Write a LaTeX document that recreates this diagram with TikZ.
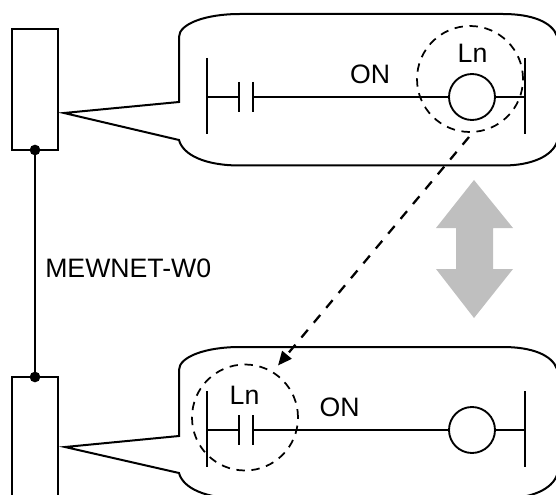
\documentclass[tikz,border=0pt]{standalone}
\usepackage{fontspec}
\setmainfont{Liberation Sans}
\usetikzlibrary{arrows.meta}
\tikzset{
  unitbox/.style={draw,line width=1.4pt,minimum width=34.5pt,inner sep=0pt,outer sep=0pt,anchor=north west},
  joint/.style={circle,fill=black,inner sep=0pt,outer sep=0pt,minimum size=8pt},
  wire/.style={line width=1.5pt},
  bubble/.style={line width=1.5pt,line join=miter},
  coil/.style={circle,draw,line width=1.4pt,inner sep=0pt,minimum size=34.5pt},
  zone/.style={circle,draw,dash pattern=on 6.3pt off 5pt,line width=1.3pt,inner sep=0pt,minimum size=79.5pt},
  link/.style={line width=1.7pt,dash pattern=on 7.5pt off 7pt,-{Triangle[length=10.5pt,width=9pt]}},
  lbl/.style={inner sep=0pt,text=black,font=\fontsize{20pt}{24pt}\selectfont},
  netlbl/.style={inner sep=0pt,text=black,anchor=west,font=\fontsize{20pt}{24pt}\selectfont}
}
\begin{document}
\begin{tikzpicture}[x=0.75pt,y=-0.75pt]
\useasboundingbox (0,0) rectangle (556,495);
\clip (0,0) rectangle (556,495);
% PLC units
\node[unitbox,minimum height=90.75pt] (u1) at (12,29) {};
\node[unitbox,minimum height=94pt] (u2) at (12,377) {};
\node[joint] (j1) at (u1.south) {};
\node[joint] (j2) at (u2.north) {};
\draw[wire] (j1) -- (j2);
\node[netlbl] (net) at (45,268.5) {MEWNET-W0};
% Gray double arrow
\fill[black!25] (474,180) -- (513,228) -- (493,228) -- (493,269) -- (513,269) -- (474,318) -- (436,269) -- (456,269) -- (456,228) -- (436,228) -- cycle;
% Top bubble
\draw[bubble] (64,113) -- (179,102) -- (179,37) .. controls (179,24) and (205,14) .. (240,14) -- (503,14) .. controls (532,14) and (552,22) .. (557,36) -- (557,142) .. controls (552,156) and (532,165.5) .. (503,165.5) -- (240,165.5) .. controls (205,165.5) and (183,155) .. (179,140) -- cycle;
% Bottom bubble
\draw[bubble] (65,447) -- (179,436) -- (179,370) .. controls (179,357) and (205,347) .. (240,347) -- (503,347) .. controls (532,347) and (552,355) .. (557,369) -- (557,475) .. controls (552,489) and (532,498.5) .. (503,498.5) -- (240,498.5) .. controls (205,498.5) and (183,488) .. (179,473) -- cycle;
% Top rung
\coordinate (a1t) at (207,58); \coordinate (a1b) at (207,134); \coordinate (a1m) at (207,97);
\coordinate (c1t) at (239,82); \coordinate (c1b) at (239,112); \coordinate (c1m) at (239,97);
\coordinate (d1t) at (253,82); \coordinate (d1b) at (253,112); \coordinate (d1m) at (253,97);
\coordinate (e1t) at (525,58); \coordinate (e1b) at (525,134); \coordinate (e1m) at (525,97);
\node[coil] (k1) at (472,97) {};
\draw[wire] (a1t) -- (a1b) (c1t) -- (c1b) (d1t) -- (d1b) (e1t) -- (e1b);
\draw[wire] (a1m) -- (c1m) (d1m) -- (k1.west) (k1.east) -- (e1m);
% Bottom rung
\coordinate (a2t) at (207,391); \coordinate (a2b) at (207,467); \coordinate (a2m) at (207,430);
\coordinate (c2t) at (239,415); \coordinate (c2b) at (239,445); \coordinate (c2m) at (239,430);
\coordinate (d2t) at (253,415); \coordinate (d2b) at (253,445); \coordinate (d2m) at (253,430);
\coordinate (e2t) at (525,391); \coordinate (e2b) at (525,467); \coordinate (e2m) at (525,430);
\node[coil] (k2) at (472,430) {};
\draw[wire] (a2t) -- (a2b) (c2t) -- (c2b) (d2t) -- (d2b) (e2t) -- (e2b);
\draw[wire] (a2m) -- (c2m) (d2m) -- (k2.west) (k2.east) -- (e2m);
% Dashed zones
\node[zone] (z1) at (470,79) {};
\node[zone] (z2) at (245,417.5) {};
\coordinate (linkstart) at (469,137);
\coordinate (linkend) at (278,365.5);
\draw[link] (linkstart) -- (linkend);
% Labels
\node[lbl] (on1) at (370,74) {ON};
\node[lbl] (ln1) at (472.5,53.5) {Ln};
\node[lbl] (ln2) at (244.5,395.5) {Ln};
\node[lbl] (on2) at (339.5,407.5) {ON};
\end{tikzpicture}
\end{document}
